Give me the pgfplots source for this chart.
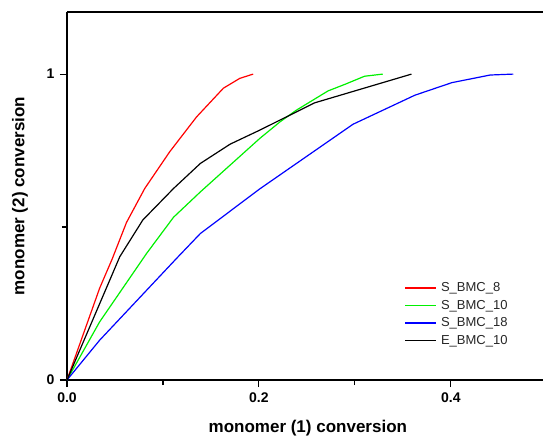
\documentclass[border=0pt]{standalone}
\usepackage{fontspec}
\setmainfont{Liberation Sans}
\usepackage{pgfplots}
\pgfplotsset{compat=1.18}
\definecolor{cred}{RGB}{255,0,0}
\definecolor{cgreen}{RGB}{0,240,0}
\definecolor{cblue}{RGB}{0,0,255}
\begin{document}
\begin{tikzpicture}
\begin{axis}[
  scale only axis,
  width=476pt, height=368pt,
  xmin=0, xmax=0.496, ymin=0, ymax=1.203,
  axis x line*=bottom, axis y line*=left,
  axis line style={line width=1.3pt, -},
  xtick={0,0.2,0.4}, xticklabels={\textbf{0.0},\textbf{0.2},\textbf{0.4}},
  minor xtick={0.1,0.3},
  ytick={0,1}, yticklabels={\textbf{0},\textbf{1}},
  minor ytick={0.5},
  tick align=outside,
  major tick length=7pt, minor tick length=5pt,
  every tick/.style={line width=1.1pt, black},
  ticklabel style={font=\fontsize{14}{16}\selectfont},
  xticklabel style={yshift=-2pt},
  yticklabel style={xshift=-2pt},
  xlabel={\textbf{monomer (1) conversion}},
  ylabel={\textbf{monomer (2) conversion}},
  label style={font=\fontsize{17}{20}\selectfont},
  xlabel style={at={(axis description cs:0.506,-0.13)}, anchor=center},
  ylabel style={at={(axis description cs:-0.0987,0.5)}, anchor=center},
  legend style={at={(axis cs:0.352,0.3235)}, anchor=north west, draw=none, fill=none,
    font=\fontsize{13}{15}\selectfont, text=black!85,
    inner sep=0pt, outer sep=0pt,
    nodes={inner sep=0.5pt, text height=10pt, text depth=3pt},
    row sep=3.5pt, column sep=0pt},
  legend cell align=left,
  legend image code/.code={\draw[#1, line width=1.3pt] (0pt,0pt) -- (31pt,0pt); \path (34.5pt,0pt);},
  every axis plot/.append style={line width=1.2pt},
  clip=false,
]
\addplot[cred] coordinates {
(0,0) (0.034,0.300) (0.047,0.395) (0.062,0.515) (0.081,0.626) (0.107,0.746)
(0.135,0.860) (0.163,0.954) (0.180,0.986) (0.194,1.0)};
\addlegendentry{S\_BMC\_8}
\addplot[cgreen] coordinates {
(0,0) (0.034,0.19) (0.083,0.414) (0.111,0.532) (0.139,0.615) (0.201,0.79)
(0.222,0.844) (0.239,0.882) (0.272,0.945) (0.290,0.967) (0.310,0.993) (0.329,1.0)};
\addlegendentry{S\_BMC\_10}
\addplot[cblue] coordinates {
(0,0) (0.034,0.13) (0.114,0.397) (0.139,0.479) (0.201,0.625) (0.298,0.836)
(0.3625,0.931) (0.401,0.972) (0.441,0.997) (0.465,1.0)};
\addlegendentry{S\_BMC\_18}
\addplot[black] coordinates {
(0,0) (0.055,0.403) (0.079,0.523) (0.111,0.626) (0.139,0.708) (0.170,0.771)
(0.201,0.817) (0.258,0.906) (0.359,1.0)};
\addlegendentry{E\_BMC\_10}
\draw[line width=1.3pt] (rel axis cs:0,1) -- (rel axis cs:1,1);
\end{axis}
\pgfresetboundingbox
\path[use as bounding box] ([xshift=-67pt,yshift=-56pt]current axis.south west) rectangle ++(543pt,436pt);
\end{tikzpicture}
\end{document}
